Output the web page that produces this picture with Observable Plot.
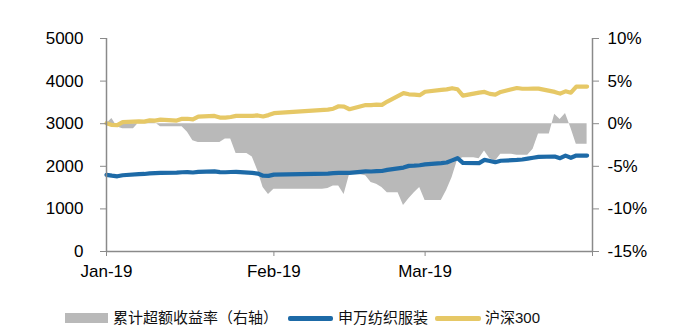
<!DOCTYPE html>
<html>
<head>
<meta charset="utf-8">
<script src="https://cdn.jsdelivr.net/npm/d3@7"></script>
<script src="https://cdn.jsdelivr.net/npm/@observablehq/plot@0.6"></script>
<style>
  html, body { margin: 0; padding: 0; background: #fff; }
  #wrap { position: relative; width: 688px; height: 329px; overflow: hidden; font-family: "Liberation Sans", Arial, "Noto Sans CJK SC", sans-serif; }
  #wrap svg { position: absolute; left: 0; top: 0; }
  .lg { position: absolute; }
  .lgt { position: absolute; top: 308px; height: 20px; line-height: 20px; font-size: 15px; color: #111; white-space: nowrap; font-family: "Liberation Sans", Arial, "Noto Sans CJK SC", sans-serif; }
</style>
</head>
<body>
<div id="wrap"></div>
<script>
// ---- data ----
const dates = ["2019-01-01","2019-01-02","2019-01-03","2019-01-04","2019-01-07","2019-01-08","2019-01-09","2019-01-10","2019-01-11","2019-01-14","2019-01-15","2019-01-16","2019-01-17","2019-01-18","2019-01-21","2019-01-22","2019-01-23","2019-01-24","2019-01-25","2019-01-28","2019-01-29","2019-01-30","2019-01-31","2019-02-01","2019-02-11","2019-02-12","2019-02-13","2019-02-14","2019-02-15","2019-02-18","2019-02-19","2019-02-20","2019-02-21","2019-02-22","2019-02-25","2019-02-26","2019-02-27","2019-02-28","2019-03-01","2019-03-04","2019-03-05","2019-03-06","2019-03-07","2019-03-08","2019-03-11","2019-03-12","2019-03-13","2019-03-14","2019-03-15","2019-03-18","2019-03-19","2019-03-20","2019-03-21","2019-03-22","2019-03-25","2019-03-26","2019-03-27","2019-03-28","2019-03-29","2019-03-31"];

// 沪深300 (left axis)
const hs300 = [3010,2970,2965,3036,3054,3048,3078,3073,3095,3074,3115,3116,3101,3168,3182,3143,3141,3158,3184,3184,3194,3169,3202,3247,3329,3352,3410,3401,3339,3439,3437,3446,3442,3520,3717,3690,3681,3669,3750,3794,3807,3833,3809,3658,3728,3746,3700,3683,3745,3838,3821,3821,3822,3823,3747,3706,3760,3728,3872,3872];

// 申万纺织服装 (left axis)
const textile = [1800,1780,1765,1790,1815,1820,1835,1840,1845,1850,1860,1862,1855,1870,1880,1862,1860,1866,1870,1845,1830,1780,1775,1805,1830,1838,1845,1845,1845,1880,1878,1885,1890,1915,1970,2010,2015,2025,2045,2075,2090,2140,2190,2080,2075,2150,2125,2095,2130,2150,2160,2180,2200,2222,2230,2190,2250,2200,2252,2252];

// 累计超额收益率 (right axis, %)
const excess = [0,0.6,-0.4,-0.6,0.1,0.2,0.2,0.1,-0.35,-0.35,-0.35,-1.0,-2.0,-2.2,-2.2,-2.2,-1.8,-1.8,-3.5,-3.9,-5.5,-7.5,-8.3,-7.7,-7.6,-7.3,-7.3,-8.3,-6.0,-6.1,-6.9,-7.1,-7.5,-8.1,-9.6,-8.8,-8.1,-7.5,-9.0,-9.0,-7.8,-6.3,-4.3,-4.0,-4.1,-3.2,-4.1,-4.4,-3.6,-3.7,-3.7,-3.7,-3.0,-1.2,1.1,0.5,1.2,-0.5,-2.4,-2.4];

const leftTicks = [0, 1000, 2000, 3000, 4000, 5000];
const leftTickLabels = ["0", "1000", "2000", "3000", "4000", "5000"];
const rightTickLabels = ["-15%", "-10%", "-5%", "0%", "5%", "10%"];
const xTickDates = ["2019-01-01", "2019-02-01", "2019-03-01", "2019-04-01"];
const xTickLabels = ["Jan-19", "Feb-19", "Mar-19", ""];
const seriesNames = ["累计超额收益率（右轴）", "申万纺织服装", "沪深300"];

// ---- build ----
const parse = s => new Date(s + "T00:00:00Z");
const rows = dates.map((d, i) => ({date: parse(d), hs300: hs300[i], textile: textile[i], excess: excess[i]}));
// right axis (-15%..10%) mapped onto left axis (0..5000)
const toLeft = p => (p + 15) * 200;
// Excel draws an area on a date axis holding each value until the day before the next point
const DAY = 86400000;
const areaPts = [];
rows.forEach((r, i) => {
  areaPts.push({date: r.date, v: r.excess});
  if (i < rows.length - 1) {
    const hold = new Date(rows[i + 1].date.getTime() - DAY);
    if (hold > r.date) areaPts.push({date: hold, v: r.excess});
  }
});

const xTicks = xTickDates.map(parse);
const xDomain = [xTicks[0], xTicks[xTicks.length - 1]];
const axisColor = "#8a8a8a";
const H = 300;

const chart = Plot.plot({
  width: 688,
  height: H,
  marginLeft: 106,
  marginRight: 96,
  marginTop: 38,
  marginBottom: H - 251,
  x: {type: "utc", domain: xDomain},
  y: {domain: [0, 5000]},
  style: {fontFamily: "'Liberation Sans', Arial, sans-serif", fontSize: "17px", color: "#000", background: "transparent", overflow: "visible"},
  marks: [
    Plot.areaY(areaPts, {x: "date", y1: toLeft(0), y2: d => toLeft(d.v), fill: "#b9b9b9", curve: "linear"}),
    Plot.lineY(rows, {x: "date", y: "hs300", stroke: "#e6c866", strokeWidth: 4.2, curve: "linear"}),
    Plot.lineY(rows, {x: "date", y: "textile", stroke: "#1d6aa7", strokeWidth: 4.2, curve: "linear"}),
    Plot.ruleX([xDomain[0], xDomain[1]], {stroke: axisColor, strokeWidth: 1.5}),
    Plot.ruleY([0], {stroke: axisColor, strokeWidth: 1.5}),
    Plot.axisY({anchor: "left", ticks: leftTicks, tickFormat: v => leftTickLabels[leftTicks.indexOf(v)], tickSize: 6, tickPadding: 17, stroke: axisColor, fill: "#000", label: null}),
    Plot.axisY({anchor: "right", ticks: leftTicks, tickFormat: v => rightTickLabels[leftTicks.indexOf(v)], tickSize: 6, tickPadding: 9, stroke: axisColor, fill: "#000", label: null}),
    Plot.axisX({ticks: xTicks, tickFormat: d => xTickLabels[xTicks.findIndex(t => +t === +d)], tickSize: 5, tickPadding: 8, stroke: axisColor, fill: "#000", label: null})
  ]
});

const wrap = document.getElementById("wrap");
wrap.appendChild(chart);

// ---- legend (HTML below the SVG) ----
function add(html) { wrap.insertAdjacentHTML("beforeend", html); }
add(`<div class="lg" style="left:65px;top:313px;width:43px;height:10px;background:#b9b9b9"></div>`);
add(`<div class="lgt" style="left:113px">${seriesNames[0]}</div>`);
add(`<div class="lg" style="left:288px;top:316px;width:45px;height:4.5px;border-radius:2px;background:#1d6aa7"></div>`);
add(`<div class="lgt" style="left:338px">${seriesNames[1]}</div>`);
add(`<div class="lg" style="left:435px;top:316px;width:46px;height:4.5px;border-radius:2px;background:#e6c866"></div>`);
add(`<div class="lgt" style="left:485px">${seriesNames[2]}</div>`);
</script>
</body>
</html>
